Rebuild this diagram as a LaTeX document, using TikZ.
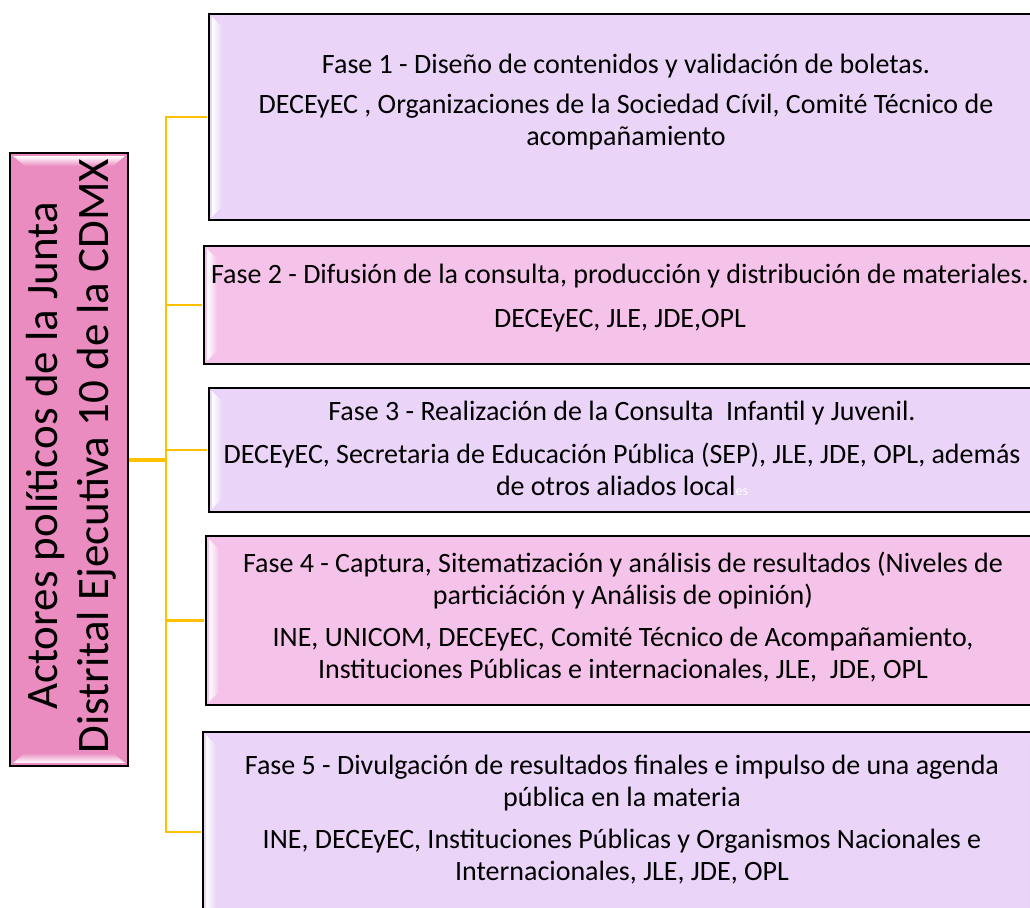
\documentclass[tikz,border=0pt]{standalone}
\usepackage{fontspec}
\setmainfont{Carlito}
\definecolor{lav}{HTML}{EAD5F8}
\definecolor{pnk}{HTML}{F5C3EA}
\definecolor{rootpink}{HTML}{EB8CC0}
\definecolor{gold}{HTML}{FFC000}
\begin{document}
\begin{tikzpicture}[x=1pt,y=1pt,
  phase/.style={draw=black, line width=1.8pt, anchor=north west, inner sep=0pt, minimum width=840pt},
  ptext/.style={align=center, font=\fontsize{28}{31.5}\selectfont, inner sep=0pt, anchor=base},
  link/.style={draw=gold, line width=2.5pt},
  trunk/.style={draw=gold, line width=4pt}]
\useasboundingbox (0,0) rectangle (1030,-907);
\clip (0,0) rectangle (1030,-907);
\fill[white] (0,0) rectangle (1030,-907);

% root
\node[draw=black, line width=1.8pt, fill=rootpink, minimum width=118pt, minimum height=613pt, inner sep=0pt] (root) at (69,-459.5) {};
\shade[top color=white, bottom color=rootpink] ([shift={(4,-4)}]root.north west) -- ([shift={(-4,-4)}]root.north east) -- ([shift={(-16,-14)}]root.north east) -- ([shift={(16,-14)}]root.north west) -- cycle;
\shade[bottom color=white, top color=rootpink] ([shift={(4,4)}]root.south west) -- ([shift={(-4,4)}]root.south east) -- ([shift={(-16,14)}]root.south east) -- ([shift={(16,14)}]root.south west) -- cycle;
\node[rotate=90, align=center, font=\fontsize{45}{51}\selectfont, inner sep=0pt] (rt) at (71,-456) {Actores políticos de la Junta\\Distrital Ejecutiva 10 de la CDMX};

% boxes
\coordinate (hub) at (166,-459.5);
\node[phase, fill=lav, minimum height=206pt] (b1) at (208,-13) {};
\node[phase, fill=pnk, minimum height=118pt] (b2) at (203,-245) {};
\node[phase, fill=lav, minimum height=124pt] (b3) at (208,-387) {};
\node[phase, fill=pnk, minimum height=169pt] (b4) at (205,-535) {};
\node[phase, fill=lav, minimum height=200pt] (b5) at (202,-731) {};
% connectors
\draw[trunk] (root.east) -- (hub);
\foreach \b in {b1,b2,b3,b4,b5} \draw[link] (hub) |- ([xshift=-1pt]\b.west);
\foreach \b/\c in {b1/lav,b2/pnk,b3/lav,b4/pnk,b5/lav}{
  \shade[left color=white, right color=\c] ([shift={(4,-4)}]\b.north west) -- ([shift={(14,-14)}]\b.north west) -- ([shift={(14,14)}]\b.south west) -- ([shift={(4,4)}]\b.south west) -- cycle;
  \shade[right color=white, left color=\c] ([shift={(-4,-4)}]\b.north east) -- ([shift={(-14,-14)}]\b.north east) -- ([shift={(-14,14)}]\b.south east) -- ([shift={(-4,4)}]\b.south east) -- cycle;
}

% texts (anchor base = baseline of last line)
\node[ptext] (t1) at (626,-145) {Fase 1 - Diseño de contenidos y validación de boletas.\\[9pt]DECEyEC , Organizaciones de la Sociedad Cívil, Comité Técnico de\\acompañamiento};
\node[ptext] (t2) at (620,-327) {Fase 2 - Difusión de la consulta, producción y distribución de materiales.\\[12pt]DECEyEC, JLE, JDE,OPL};
\node[ptext] (t3) at (622,-495) {Fase 3 - Realización de la Consulta~ Infantil y Juvenil.\\[12pt]DECEyEC, Secretaria de Educación Pública (SEP), JLE, JDE, OPL, además\\de otros aliados local{\color{white}\fontsize{14}{14}\selectfont es}};
\node[ptext] (t4) at (623,-678) {Fase 4 - Captura, Sitematización y análisis de resultados (Niveles de\\particiáción y Análisis de opinión)\\[11pt]INE, UNICOM, DECEyEC, Comité Técnico de Acompañamiento,\\Instituciones Públicas e internacionales, JLE,~ JDE, OPL};
\node[ptext] (t5) at (622,-880) {Fase 5 - Divulgación de resultados finales e impulso de una agenda\\pública en la materia\\[11pt]INE, DECEyEC, Instituciones Públicas y Organismos Nacionales e\\Internacionales, JLE, JDE, OPL};
\end{tikzpicture}
\end{document}
